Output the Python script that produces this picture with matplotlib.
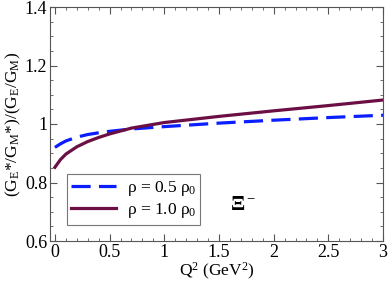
import numpy as np
import matplotlib
matplotlib.use("Agg")
import matplotlib.pyplot as plt
from matplotlib.ticker import MultipleLocator

plt.rcParams['font.family'] = ['Liberation Serif', 'DejaVu Serif']
plt.rcParams['mathtext.fontset'] = 'custom'
plt.rcParams['mathtext.rm'] = 'Liberation Serif'
plt.rcParams['mathtext.it'] = 'Liberation Serif'
plt.rcParams['mathtext.bf'] = 'Liberation Serif:bold'

# values
q2 = [0.0, 0.05, 0.1, 0.2, 0.3, 0.4, 0.5, 0.7, 1.0, 1.5, 2.0, 2.5, 3.0]
ratio_half = [0.92, 0.932, 0.942, 0.955, 0.964, 0.970, 0.975, 0.983, 0.991, 1.003, 1.013, 1.022, 1.030]
ratio_full = [0.852, 0.878, 0.897, 0.922, 0.940, 0.954, 0.966, 0.986, 1.005, 1.026, 1.045, 1.063, 1.082]
labels = [r'$\rho$ = 0.5 $\rho_0$', r'$\rho$ = 1.0 $\rho_0$']

fig = plt.figure(figsize=(3.88, 2.84), dpi=100)
ax = fig.add_axes([50/388, 1 - 241/284, 333/388, 234/284])

ax.plot(q2, ratio_half, color='#0a1eff', lw=2.3, dashes=(6, 2.6), label=labels[0])
ax.plot(q2, ratio_full, color='#6b0f45', lw=2.3, label=labels[1])

ax.set_xlim(-0.045, 3)
ax.set_ylim(0.6, 1.4)
ax.xaxis.set_minor_locator(MultipleLocator(0.1))
ax.yaxis.set_minor_locator(MultipleLocator(0.05))
ax.set_xticks([0, 0.5, 1, 1.5, 2, 2.5, 3])
ax.set_xticklabels(['0', '0.5', '1', '1.5', '2', '2.5', '3'])
ax.set_yticks([0.6, 0.8, 1.0, 1.2, 1.4])
ax.set_yticklabels(['0.6', '0.8', '1', '1.2', '1.4'])
ax.tick_params(which='both', direction='in', top=True, right=True, labelsize=13, color='#555555')
ax.tick_params(which='major', length=5, pad=2)
ax.tick_params(which='minor', length=2.5)
for s in ax.spines.values():
    s.set_color('#555555')

ax.set_xlabel(r'Q$^2$ (GeV$^2$)', fontsize=12.5, labelpad=0)
ax.set_ylabel(r'(G$_E$*/G$_M$*)/(G$_E$/G$_M$)', fontsize=12.5, labelpad=1)

ax.text(1.6, 0.705, r'$\mathbf{\Xi}^-$', fontsize=15)

leg = ax.legend(loc='lower left', bbox_to_anchor=(0.05, 0.07), fontsize=12.5, frameon=True,
                fancybox=False, edgecolor='#555555', handlelength=2.6, borderpad=0.25,
                labelspacing=0.2, handletextpad=0.6, borderaxespad=0)
leg.get_frame().set_linewidth(0.8)

fig.savefig('out.png', dpi=100)
